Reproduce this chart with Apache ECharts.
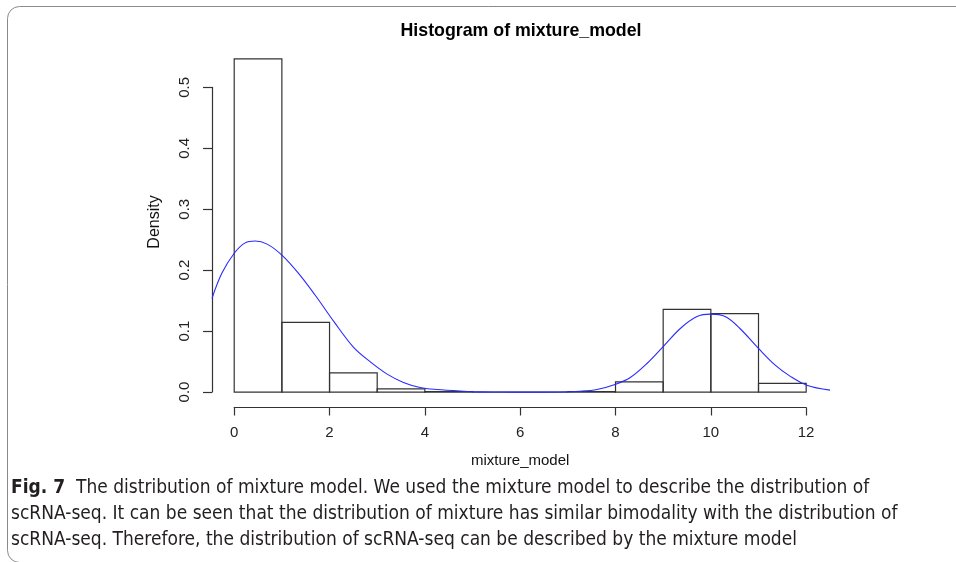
<!DOCTYPE html>
<html>
<head>
<meta charset="utf-8">
<script src="https://cdn.jsdelivr.net/npm/echarts@6/dist/echarts.min.js"></script>
<style>
html,body{margin:0;padding:0;background:#fff;}
#chart{width:956px;height:562px;}
</style>
</head>
<body>
<div id="chart"></div>
<script>
// Histogram bins (left edge, right edge) and densities
var binStarts = [0, 1, 2, 3, 4, 5, 6, 7, 8, 9, 10, 11];
var binEnds   = [1, 2, 3, 4, 5, 6, 7, 8, 9, 10, 11, 12];
var densities = [0.547, 0.1145, 0.0317, 0.0055, 0.001, 0, 0, 0.001, 0.017, 0.136, 0.129, 0.0143];

// Mixture model density curve
var curveX = [-0.466, -0.26, 0.0, 0.23, 0.44, 0.69, 1.0, 1.35, 1.70, 2.10, 2.50, 2.85, 3.20, 3.55, 3.90, 4.25, 4.81, 5.16, 5.6, 6.2, 6.8, 7.26, 7.61, 7.99, 8.31, 8.66, 9.01, 9.36, 9.71, 9.99, 10.30, 10.61, 11.0, 11.35, 11.66, 12.01, 12.5];
var curveY = [0.154, 0.195, 0.228, 0.245, 0.248, 0.243, 0.225, 0.195, 0.159, 0.115, 0.074, 0.050, 0.030, 0.016, 0.0077, 0.0044, 0.0016, 0.0005, 0.0002, 0.0001, 0.0003, 0.0016, 0.0044, 0.0126, 0.024, 0.047, 0.0755, 0.1045, 0.124, 0.128, 0.124, 0.1045, 0.0717, 0.0443, 0.0263, 0.0115, 0.0033];

// Axis ticks
var xTicks = [0, 2, 4, 6, 8, 10, 12];
var yTicks = [0.0, 0.1, 0.2, 0.3, 0.4, 0.5];

var titleText = 'Histogram of mixture_model';
var xName = 'mixture_model';
var yName = 'Density';
var captionLines = [
  ['Fig. 7', '  The distribution of mixture model. We used the mixture model to describe the distribution of'],
  ['', 'scRNA-seq. It can be seen that the distribution of mixture has similar bimodality with the distribution of'],
  ['', 'scRNA-seq. Therefore, the distribution of scRNA-seq can be described by the mixture model']
];

var histData = binStarts.map(function (s, i) { return [s, binEnds[i], densities[i]]; });
var curveData = curveX.map(function (x, i) { return [x, curveY[i]]; });

var chart = echarts.init(document.getElementById('chart'), null, {renderer: 'canvas'});
var axisFont = 'Liberation Sans, Arial, sans-serif';
var capFont = '"Liberation Sans Narrow", "DejaVu Sans Condensed", "Open Sans", sans-serif';

var graphics = [
  {type: 'rect', shape: {x: 7.5, y: 6.5, width: 1000, height: 556, r: 12},
   style: {fill: 'none', stroke: '#8a8a8a', lineWidth: 1}, silent: true},
  {type: 'text', x: 521, y: 31, style: {text: titleText, font: 'bold 17.8px ' + axisFont, fill: '#000',
   textAlign: 'center', textVerticalAlign: 'middle'}},
  {type: 'text', x: 155, y: 222, rotation: Math.PI / 2, style: {text: yName, font: '16px ' + axisFont, fill: '#111',
   textAlign: 'center', textVerticalAlign: 'middle'}}
];
captionLines.forEach(function (ln, i) {
  graphics.push({type: 'text', x: 11, y: 488 + i * 26,
    style: {
      text: (ln[0] ? '{b|' + ln[0] + '}' : '') + '{n|' + ln[1] + '}',
      textVerticalAlign: 'middle', textAlign: 'left',
      rich: {
        b: {font: 'bold 19px ' + capFont, fill: '#231f20'},
        n: {font: '19px ' + capFont, fill: '#231f20'}
      }
    }});
});

var option = {
  animation: false,
  backgroundColor: '#fff',
  grid: [
    {left: 212, width: 618, top: 45.5, height: 360},
    {left: 212, width: 10, top: 87.4, height: 304.6},
    {left: 234.2, width: 571.9, top: 300, height: 107.5}
  ],
  xAxis: [
    {gridIndex: 0, type: 'value', min: -0.466, max: 12.5, show: false},
    {gridIndex: 1, type: 'value', min: 0, max: 1, show: false},
    {gridIndex: 2, type: 'value', min: xTicks[0], max: xTicks[xTicks.length - 1], interval: 2,
     axisLine: {show: true, onZero: false, lineStyle: {color: '#333', width: 1.2}},
     axisTick: {show: true, inside: false, length: 8, lineStyle: {color: '#333', width: 1.2}},
     axisLabel: {show: true, margin: 18, color: '#222', fontSize: 15, fontFamily: axisFont},
     splitLine: {show: false},
     name: xName, nameLocation: 'middle', nameGap: 46,
     nameTextStyle: {color: '#111', fontSize: 15, fontFamily: axisFont}}
  ],
  yAxis: [
    {gridIndex: 0, type: 'value', min: -0.0219, max: 0.569, show: false},
    {gridIndex: 1, type: 'value', min: yTicks[0], max: yTicks[yTicks.length - 1], interval: 0.1,
     axisLine: {show: true, onZero: false, lineStyle: {color: '#333', width: 1.2}},
     axisTick: {show: true, inside: false, length: 9, lineStyle: {color: '#333', width: 1.2}},
     axisLabel: {show: true, rotate: 90, margin: 20, color: '#222', fontSize: 15, fontFamily: axisFont,
       formatter: function (v) { return v.toFixed(1); }},
     splitLine: {show: false}},
    {gridIndex: 2, type: 'value', min: 0, max: 1, show: false}
  ],
  series: [
    {
      type: 'custom', xAxisIndex: 0, yAxisIndex: 0,
      data: histData,
      encode: {x: [0, 1], y: 2},
      renderItem: function (params, api) {
        var p0 = api.coord([api.value(0), api.value(2)]);
        var p1 = api.coord([api.value(1), 0]);
        return {
          type: 'rect',
          shape: {x: p0[0], y: p0[1], width: p1[0] - p0[0], height: p1[1] - p0[1]},
          style: {fill: 'none', stroke: '#333', lineWidth: 1.2}
        };
      },
      z: 2
    },
    {
      type: 'line', xAxisIndex: 0, yAxisIndex: 0,
      data: curveData, showSymbol: false, smooth: 0.35,
      lineStyle: {color: '#2a2aff', width: 1.1},
      z: 3
    }
  ],
  graphic: graphics
};
chart.setOption(option);
</script>
</body>
</html>
